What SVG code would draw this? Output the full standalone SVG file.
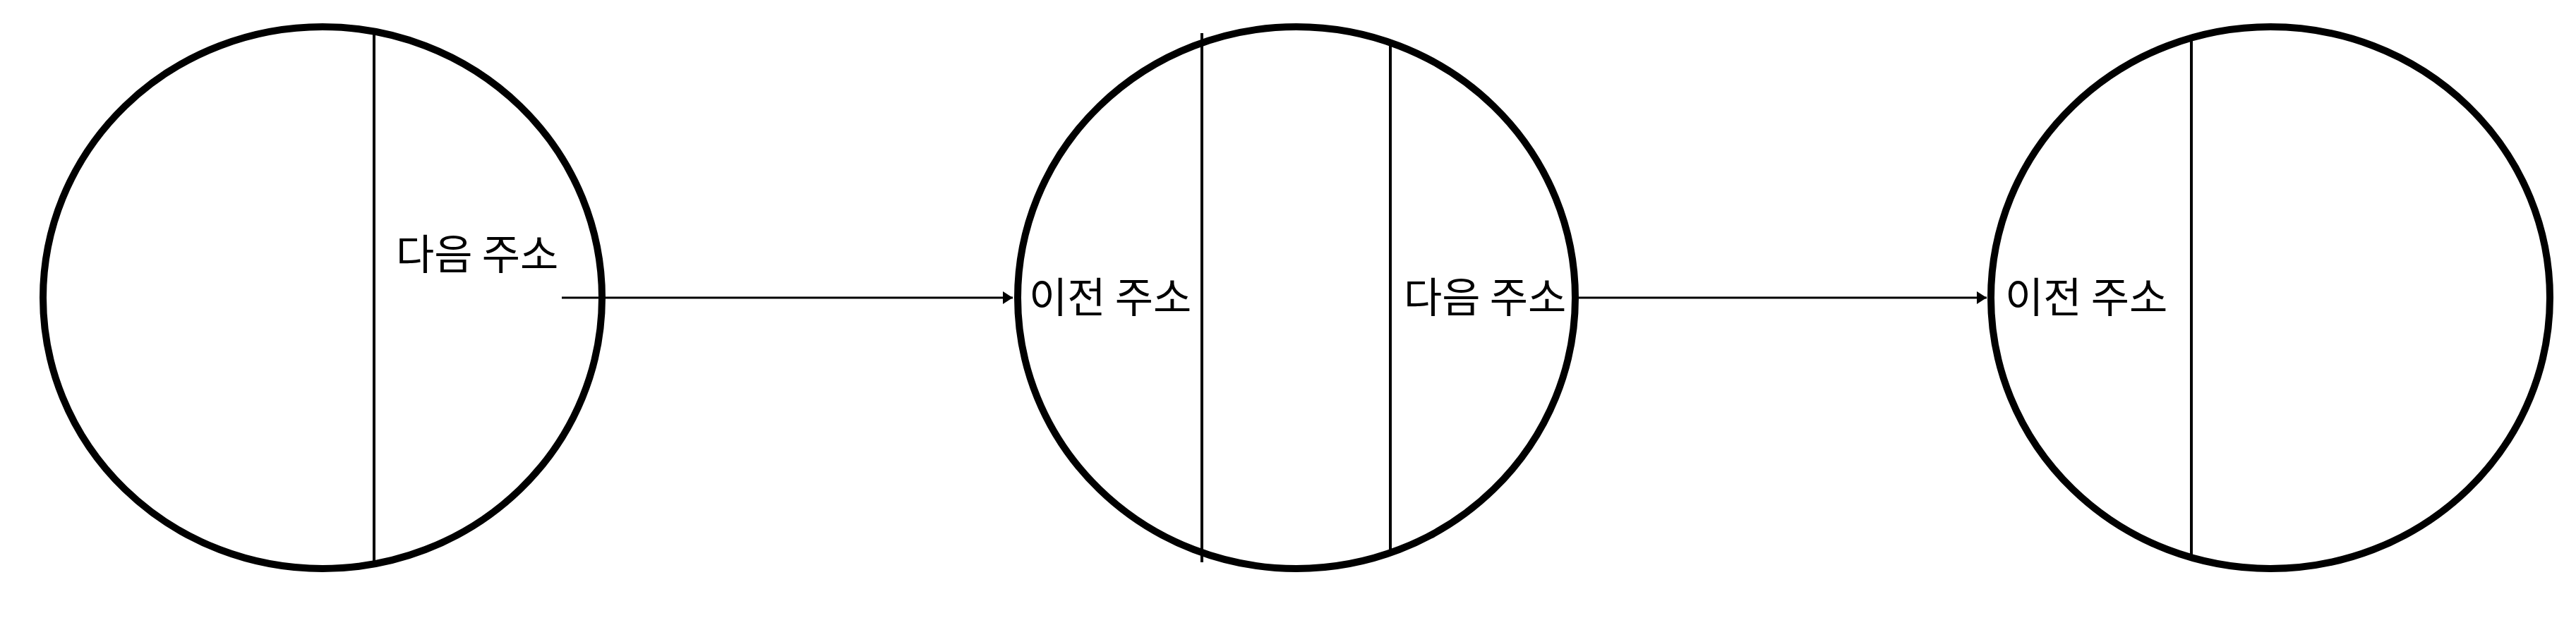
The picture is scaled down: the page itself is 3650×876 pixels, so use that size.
<svg xmlns="http://www.w3.org/2000/svg" width="3650" height="876" viewBox="0 0 3650 876">
<style>
.node{fill:#fff;stroke:#000;stroke-width:10}
.div{stroke:#000;stroke-width:4}
.lbl{font-family:"Noto Sans CJK KR","Noto Sans",sans-serif;font-size:59px;fill:#000}
.edge{stroke:#000;stroke-width:3;fill:none}
</style>
<defs>
<marker id="ah" markerUnits="userSpaceOnUse" markerWidth="16" markerHeight="20" refX="14" refY="9" orient="auto">
<path d="M0,0 L14,9 L0,18 Z" fill="#000"/>
</marker>
</defs>
<rect width="3650" height="876" fill="#fff"/>
<g id="node1">
<ellipse class="node" cx="457" cy="422" rx="396" ry="384"/>
<line class="div" x1="530" y1="48" x2="530" y2="796"/>
<text class="lbl" x="561" y="382">다음 주소</text>
</g>
<g id="node2">
<ellipse class="node" cx="1837" cy="422" rx="395" ry="384"/>
<line class="div" x1="1703" y1="47" x2="1703" y2="797"/>
<line class="div" x1="1970" y1="64" x2="1970" y2="780"/>
<text class="lbl" x="1458" y="443">이전 주소</text>
<text class="lbl" x="1989" y="443">다음 주소</text>
</g>
<g id="node3">
<ellipse class="node" cx="3217" cy="422" rx="396" ry="384"/>
<line class="div" x1="3105" y1="58" x2="3105" y2="786"/>
<text class="lbl" x="2841" y="443">이전 주소</text>
</g>
<g id="connectors">
<line class="edge" x1="796" y1="422" x2="1435" y2="422" marker-end="url(#ah)"/>
<line class="edge" x1="2237" y1="422" x2="2815" y2="422" marker-end="url(#ah)"/>
</g>
</svg>
